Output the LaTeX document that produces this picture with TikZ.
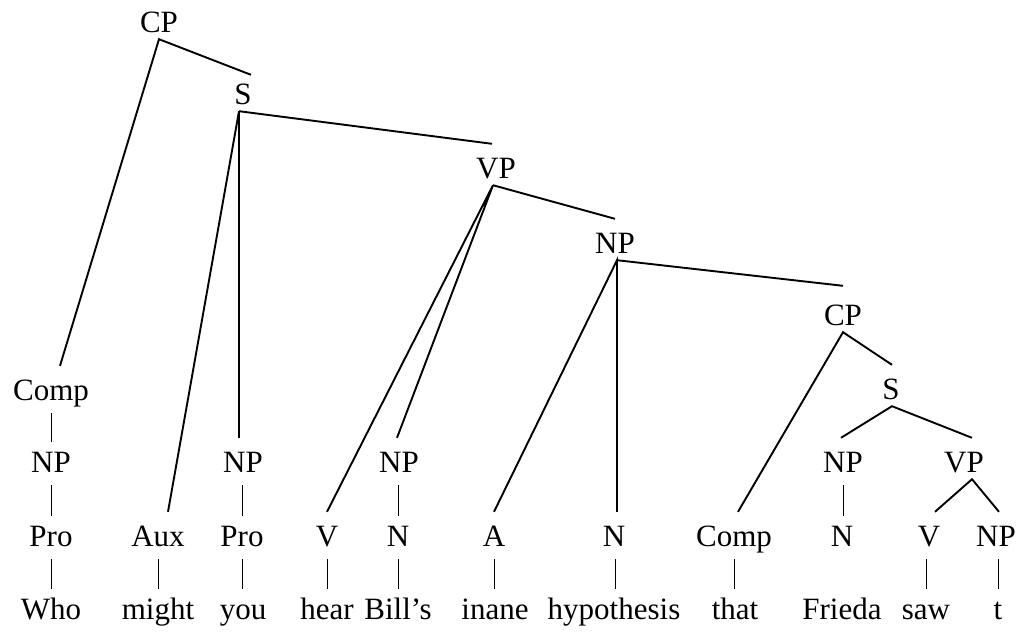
\documentclass[tikz,border=0pt]{standalone}
\usepackage{fontspec}
\setmainfont{Liberation Serif}
\begin{document}
\begin{tikzpicture}[x=1pt,y=-1pt,
  font=\fontsize{31}{36}\selectfont,
  lbl/.style={anchor=base, inner sep=0pt, inner ysep=7pt, text height=27pt, text depth=0pt},
  branch/.style={line width=1.9pt},
  bar/.style={line width=0.9pt, shorten <=6pt, shorten >=-4pt}]
\useasboundingbox (0,0) rectangle (1023,633);
% upper nodes
\node[lbl] (cp1) at (159,32) {CP};
\node[lbl] (s1) at (243,104) {S};
\node[lbl] (vp1) at (496,178) {VP};
\node[lbl] (np1) at (615,253) {NP};
\node[lbl] (cp2) at (843,325) {CP};
\node[lbl] (comp1) at (51,400) {Comp};
\node[lbl] (s2) at (891,399) {S};
% row 6
\node[lbl] (npa) at (51,472) {NP};
\node[lbl] (npb) at (243,472) {NP};
\node[lbl] (npc) at (399,472) {NP};
\node[lbl] (npd) at (843,472) {NP};
\node[lbl] (vp2) at (964,472) {VP};
% row 7
\node[lbl] (pro1) at (51,546) {Pro};
\node[lbl] (aux) at (158,546) {Aux};
\node[lbl] (pro2) at (242,546) {Pro};
\node[lbl] (v1) at (327,546) {V};
\node[lbl] (n1) at (398,546) {N};
\node[lbl] (a) at (494,546) {A};
\node[lbl] (n2) at (614,546) {N};
\node[lbl] (comp2) at (734,546) {Comp};
\node[lbl] (n3) at (842,546) {N};
\node[lbl] (v2) at (929,546) {V};
\node[lbl] (npe) at (996,546) {NP};
% words
\node[lbl] (who) at (51,619) {Who};
\node[lbl] (might) at (158,619) {might};
\node[lbl] (you) at (243,619) {you};
\node[lbl] (hear) at (327,619) {hear};
\node[lbl] (bills) at (398,619) {Bill’s};
\node[lbl] (inane) at (495,619) {inane};
\node[lbl] (hyp) at (614,619) {hypothesis};
\node[lbl] (that) at (735,619) {that};
\node[lbl] (frieda) at (842,619) {Frieda};
\node[lbl] (saw) at (926,619) {saw};
\node[lbl] (t) at (998,619) {t};
% branches
\draw[branch] ([xshift=9pt]comp1.north) -- (cp1.south) -- ([xshift=8pt,yshift=-5pt]s1.north);
\draw[branch] ([xshift=10pt]aux.north) -- ([xshift=-4pt]s1.south) -- ([xshift=-4pt]npb.north);
\draw[branch] ([xshift=-4pt]s1.south) -- ([xshift=-4pt]vp1.north);
\draw[branch] (v1.north) -- ([xshift=-3pt]vp1.south) -- ([xshift=-2pt]npc.north);
\draw[branch] ([xshift=-3pt]vp1.south) -- (np1.north);
\draw[branch] (a.north) -- ([xshift=2pt]np1.south) -- ([xshift=3pt]n2.north);
\draw[branch] ([xshift=2pt]np1.south) -- ([yshift=5pt]cp2.north);
\draw[branch] ([xshift=4pt]comp2.north) -- (cp2.south) -- ([xshift=1pt]s2.north);
\draw[branch] ([xshift=-2pt]npd.north) -- ([xshift=1pt]s2.south) -- ([xshift=8pt]vp2.north);
\draw[branch] ([xshift=6pt]v2.north) -- ([xshift=8pt]vp2.south) -- ([xshift=3pt]npe.north);
% unary bars (vertical, at the lower node's centre)
\draw[bar] (comp1.south -| npa.north) -- (npa.north);
\draw[bar] (npa.south -| pro1.north) -- (pro1.north);
\draw[bar] (pro1.south -| who.north) -- (who.north);
\draw[bar] (aux.south -| might.north) -- (might.north);
\draw[bar] (npb.south -| pro2.north) -- (pro2.north);
\draw[bar] (pro2.south -| pro2.north) -- (pro2.north |- you.north);
\draw[bar] (v1.south -| hear.north) -- (hear.north);
\draw[bar] (npc.south -| n1.north) -- (n1.north);
\draw[bar] (n1.south -| bills.north) -- (bills.north);
\draw[bar] (a.south -| a.north) -- (a.north |- inane.north);
\draw[bar] ([xshift=1pt]n2.south) -- ([xshift=1pt]n2.south |- hyp.north);
\draw[bar] (comp2.south) -- (comp2.south |- that.north);
\draw[bar] (npd.south) -- (npd.south |- n3.north);
\draw[bar] (v2.south -| saw.north) -- (saw.north);
\draw[bar] (npe.south -| t.north) -- (t.north);
\end{tikzpicture}
\end{document}
